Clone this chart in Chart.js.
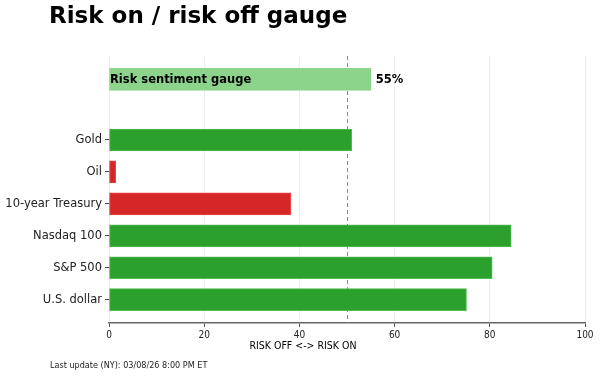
<!DOCTYPE html>
<html>
<head>
<meta charset="utf-8">
<script src="https://cdn.jsdelivr.net/npm/chart.js@4/dist/chart.umd.min.js"></script>
<style>
  html, body { margin: 0; padding: 0; background: #fff; }
  #wrap { width: 600px; height: 376px; position: relative; }
</style>
</head>
<body>
<div id="wrap"><canvas id="gauge"></canvas></div>
<script>
// Daten
const assetLabels = ['U.S. dollar', 'S&P 500', 'Nasdaq 100', '10-year Treasury', 'Oil', 'Gold'];
const assetScores = [75.1, 80.5, 84.5, 38.2, 1.4, 51.0];
const sentimentLabel = 'Risk sentiment gauge';
const sentimentScore = 55;
const xTicks = [0, 20, 40, 60, 80, 100];
const neutralLevel = 50;
const titleText = 'Risk on / risk off gauge';
const axisTitle = 'RISK OFF <-> RISK ON';
const footerText = 'Last update (NY): 03/08/26 8:00 PM ET';

const FONT = "'DejaVu Sans', 'Liberation Sans', sans-serif";
const NARROW = "'DejaVu Sans Condensed', 'DejaVu Sans', sans-serif";
const colors = {
    on: 'rgba(44, 160, 44, 1)',
    off: 'rgba(214, 39, 40, 1)',
    gauge: 'rgba(140, 212, 140, 1)',
    onEdge: 'rgba(80, 190, 80, 1)',
    offEdge: 'rgba(235, 70, 70, 1)',
    gaugeEdge: 'rgba(140, 212, 140, 1)'
};

// Zeilen: Assets unten, Gauge oben mit Abstand
const gaugeRow = assetLabels.length + 0.9;
const points = assetScores.map((v, i) => ({ x: v, y: i }));
points.push({ x: sentimentScore, y: gaugeRow });
const fills = assetScores.map(v => v >= neutralLevel ? colors.on : colors.off).concat([colors.gauge]);
const edges = assetScores.map(v => v >= neutralLevel ? colors.onEdge : colors.offEdge).concat([colors.gaugeEdge]);

const decorPlugin = {
    id: 'decor',
    beforeDatasetsDraw(chart) {
        const { ctx, chartArea, scales } = chart;
        const x = scales.x.getPixelForValue(neutralLevel);
        ctx.save();
        ctx.strokeStyle = '#888';
        ctx.lineWidth = 1;
        ctx.setLineDash([4, 3]);
        ctx.beginPath();
        ctx.moveTo(Math.round(x) + 0.5, chartArea.top);
        ctx.lineTo(Math.round(x) + 0.5, chartArea.bottom);
        ctx.stroke();
        ctx.restore();
    },
    afterDatasetsDraw(chart) {
        const { ctx, scales } = chart;
        const meta = chart.getDatasetMeta(0);
        const bar = meta.data[meta.data.length - 1];
        ctx.save();
        ctx.fillStyle = '#000';
        ctx.textBaseline = 'middle';
        ctx.font = 'bold 11.5px ' + FONT;
        ctx.textAlign = 'left';
        ctx.fillText(sentimentLabel, scales.x.getPixelForValue(0) + 1, bar.y + 1);
        ctx.fillText(sentimentScore + '%', bar.x + 5, bar.y + 1);
        ctx.restore();
    },
    afterDraw(chart) {
        const { ctx } = chart;
        ctx.save();
        ctx.fillStyle = '#000';
        ctx.textBaseline = 'middle';
        ctx.textAlign = 'left';
        ctx.font = 'bold 23px ' + FONT;
        ctx.fillText(titleText, 49, 17);
        ctx.font = '9px ' + NARROW;
        ctx.fillStyle = '#222';
        ctx.fillText(footerText, 50, 366);
        ctx.font = '10.5px ' + NARROW;
        ctx.fillStyle = '#000';
        ctx.textAlign = 'center';
        ctx.fillText(axisTitle, 303, 346);
        ctx.restore();
    }
};

new Chart(document.getElementById('gauge'), {
    type: 'bar',
    data: {
        datasets: [{
            data: points,
            backgroundColor: fills,
            borderColor: edges,
            borderWidth: 1,
            borderSkipped: false,
            barThickness: 22
        }]
    },
    options: {
        indexAxis: 'y',
        responsive: true,
        maintainAspectRatio: false,
        animation: false,
        events: [],
        layout: { padding: { top: 56, right: 15, left: 0, bottom: 0 } },
        plugins: {
            legend: { display: false },
            tooltip: { enabled: false }
        },
        scales: {
            x: {
                type: 'linear',
                min: 0,
                max: 100,
                afterBuildTicks: scale => { scale.ticks = xTicks.map(v => ({ value: v })); },
                afterFit: scale => { scale.height = 53; },
                ticks: {
                    color: '#222',
                    font: { family: NARROW, size: 10 },
                    padding: 2,
                    maxRotation: 0
                },
                grid: {
                    color: 'rgba(0, 0, 0, 0.07)',
                    tickColor: '#555',
                    tickLength: 4
                },
                border: { display: true, color: '#666', width: 1.5 }
            },
            y: {
                type: 'linear',
                offset: false,
                min: -0.73,
                max: gaugeRow + 0.73,
                afterBuildTicks: scale => { scale.ticks = assetLabels.map((l, i) => ({ value: i })); },
                afterFit: scale => { scale.width = 109; },
                ticks: {
                    color: '#222',
                    font: { family: FONT, size: 11.5 },
                    padding: 3,
                    autoSkip: false,
                    callback: (v) => assetLabels[v]
                },
                grid: {
                    offset: false,
                    drawOnChartArea: false,
                    tickColor: '#444',
                    tickLength: 4
                },
                border: { display: false }
            }
        }
    },
    plugins: [decorPlugin]
});
</script>
</body>
</html>
